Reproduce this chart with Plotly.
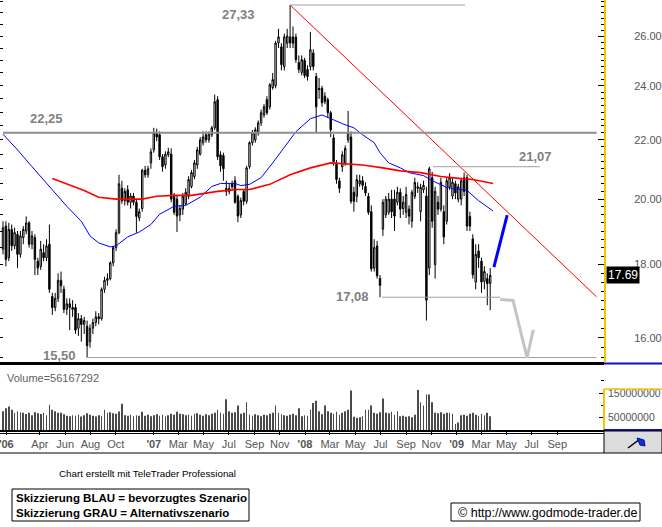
import math
import pandas as pd
import plotly.graph_objects as go

# ---------------- data ----------------
opens = [18.45, 19.15, 18.2, 19.05, 18.55, 18.9, 18.3, 18.8, 19.0, 19.25,
         18.6, 18.8, 18.1, 17.95, 18.35, 18.2, 18.6, 17.1, 16.8, 17.05,
         17.55, 17.3, 16.75, 16.9, 16.8, 16.8, 16.25, 16.5, 16.35, 16.3,
         15.9, 16.25, 16.4, 16.55, 16.5, 17.3, 17.55, 17.6, 18.05, 18.5,
         18.95, 20.35, 19.95, 20.3, 19.9, 20.1, 19.9, 19.4, 19.7, 20.95,
         20.8, 21.2, 21.65, 22.25, 22.18, 21.41, 21.13, 21.48, 21.5, 20.09,
         20.0, 19.5, 19.68, 19.85, 20.09, 20.41, 20.74, 21.13, 21.5, 21.9,
         22.18, 22.0, 22.18, 22.43, 23.47, 21.48, 21.45, 20.35, 20.25, 20.5,
         20.6, 20.09, 19.5, 20.25, 19.93, 21.07, 21.9, 22.0, 22.25, 22.61,
         22.9, 23.47, 23.2, 23.93, 24.0, 25.71, 25.55, 24.75, 25.7, 25.96,
         25.96, 25.96, 24.91, 24.52, 25.0, 24.64, 24.75, 25.3, 24.36, 23.9,
         23.9, 23.6, 23.47, 22.98, 22.07, 21.2, 20.6, 21.07, 21.2, 22.0,
         22.1, 20.22, 20.09, 20.5, 20.6, 20.41, 20.09, 19.6, 17.9, 18.55,
         17.6, 19.06, 19.5, 19.58, 20.0, 20.0, 19.9, 20.22, 19.7, 19.58,
         19.68, 19.3, 20.09, 20.35, 19.6, 20.3, 20.1, 17.9, 20.7, 18.0,
         19.9, 19.68, 19.6, 19.3, 20.4, 20.1, 20.5, 20.0, 20.0, 20.7,
         20.7, 19.45, 18.76, 17.5, 18.4, 18.1, 17.52, 17.6, 17.46]
highs = [19.3, 19.3, 19.25, 19.2, 19.1, 19.0, 19.0, 19.15, 19.45, 19.3,
         19.0, 18.9, 18.2, 18.7, 18.6, 18.75, 19.2, 17.2, 17.2, 17.75,
         17.8, 17.4, 17.05, 17.05, 17.0, 16.9, 16.65, 16.6, 16.55, 16.45,
         16.35, 16.5, 16.7, 16.65, 17.35, 17.65, 17.75, 18.1, 18.55, 19.05,
         20.8, 20.6, 20.35, 20.45, 20.2, 20.2, 20.0, 19.7, 21.0, 21.1,
         21.1, 21.7, 22.43, 22.4, 22.3, 21.5, 21.6, 21.72, 21.7, 20.2,
         20.1, 19.8, 20.2, 20.35, 20.75, 20.95, 21.3, 21.75, 22.1, 22.3,
         22.3, 22.3, 22.5, 23.66, 23.6, 21.6, 21.55, 20.6, 20.5, 20.6,
         20.75, 20.15, 20.05, 20.3, 21.1, 21.95, 22.35, 22.45, 22.7, 23.1,
         23.3, 23.6, 24.1, 24.5, 25.8, 26.3, 25.7, 26.1, 26.3, 27.33,
         26.4, 26.1, 25.2, 25.2, 25.1, 24.8, 26.17, 25.45, 24.5, 24.3,
         24.0, 23.75, 23.55, 23.05, 22.2, 21.3, 20.7, 21.6, 21.8, 23.05,
         22.3, 20.4, 20.8, 20.8, 20.75, 20.55, 20.2, 19.8, 18.75, 18.7,
         17.7, 20.0, 20.1, 20.2, 20.3, 20.3, 20.4, 20.35, 20.1, 20.4,
         19.8, 20.3, 20.7, 20.55, 20.5, 20.6, 20.4, 21.07, 20.9, 20.4,
         20.1, 20.7, 19.8, 20.7, 20.85, 20.7, 20.6, 20.5, 20.7, 20.87,
         20.8, 19.6, 18.9, 18.6, 18.6, 18.2, 17.95, 17.75, 17.9]
lows = [18.3, 17.95, 18.1, 18.4, 18.45, 17.9, 18.2, 18.6, 18.9, 18.5,
        18.45, 17.7, 17.7, 17.85, 18.1, 18.1, 17.2, 16.6, 16.7, 16.95,
        17.2, 16.65, 16.6, 16.2, 16.55, 16.1, 16.05, 15.9, 16.1, 15.5,
        15.75, 16.1, 16.3, 16.35, 16.45, 17.2, 17.4, 17.55, 17.95, 18.4,
        18.9, 19.85, 19.8, 19.8, 19.7, 19.8, 18.95, 19.3, 19.6, 20.7,
        20.7, 21.0, 21.55, 21.95, 21.3, 20.9, 21.0, 21.4, 19.9, 19.5,
        18.97, 19.3, 19.5, 19.8, 20.0, 20.35, 20.65, 21.0, 21.45, 21.8,
        21.9, 21.9, 22.1, 22.35, 21.3, 20.9, 20.6, 20.1, 20.15, 20.3,
        19.85, 19.27, 19.4, 19.8, 19.85, 21.0, 21.8, 21.9, 22.15, 22.5,
        22.8, 22.9, 23.1, 23.85, 23.9, 25.5, 24.6, 24.6, 25.5, 25.5,
        25.5, 24.9, 24.5, 24.4, 24.3, 24.2, 24.6, 24.6, 22.25, 23.5,
        23.2, 23.3, 22.8, 22.1, 21.1, 20.5, 20.2, 20.9, 21.1, 21.9,
        19.85, 19.6, 19.9, 20.4, 20.3, 20.1, 19.5, 17.8, 17.8, 17.6,
        17.08, 18.85, 19.4, 19.5, 19.4, 19.0, 19.8, 19.4, 19.5, 19.4,
        19.2, 19.1, 20.0, 20.2, 19.3, 20.2, 16.45, 17.7, 19.1, 17.6,
        19.5, 19.6, 18.6, 19.2, 20.3, 20.0, 20.0, 19.9, 19.8, 20.1,
        19.0, 19.0, 17.6, 17.3, 17.9, 17.2, 17.3, 16.86, 16.73]
closes = [19.1, 18.15, 19.05, 18.55, 18.95, 18.3, 18.85, 19.05, 19.25, 18.6,
          18.85, 18.15, 17.9, 18.45, 18.2, 18.55, 17.3, 16.8, 17.05, 17.55,
          17.4, 16.75, 16.9, 16.8, 16.75, 16.2, 16.5, 16.35, 16.45, 15.8,
          16.25, 16.4, 16.55, 16.5, 17.3, 17.55, 17.6, 18.05, 18.5, 18.95,
          20.5, 19.95, 20.25, 19.9, 20.1, 19.9, 19.45, 19.6, 20.95, 20.8,
          21.0, 21.58, 22.25, 22.1, 21.41, 21.07, 21.5, 21.58, 20.0, 19.58,
          19.46, 19.7, 20.09, 20.22, 20.64, 20.87, 21.2, 21.65, 22.0, 22.1,
          22.0, 22.2, 22.43, 23.39, 21.41, 21.1, 21.0, 20.25, 20.35, 20.4,
          19.9, 19.46, 19.95, 19.93, 21.03, 21.9, 22.25, 22.36, 22.61, 22.98,
          23.2, 22.98, 24.04, 24.24, 25.71, 25.96, 24.83, 25.96, 26.0, 25.71,
          25.7, 25.03, 24.64, 25.03, 24.4, 24.36, 25.43, 24.75, 23.2, 23.85,
          23.35, 23.4, 22.98, 22.36, 21.24, 20.64, 20.35, 21.48, 21.7, 22.25,
          19.93, 19.93, 20.64, 20.6, 20.45, 20.2, 19.58, 17.88, 18.5, 17.68,
          17.41, 19.9, 20.0, 20.0, 19.6, 19.46, 20.22, 19.68, 19.9, 20.15,
          19.46, 20.22, 20.54, 20.4, 20.38, 20.45, 17.0, 21.0, 19.3, 20.25,
          19.68, 20.55, 18.82, 20.6, 20.7, 20.55, 20.2, 20.4, 20.6, 20.25,
          19.15, 19.15, 17.71, 18.3, 18.2, 17.5, 17.8, 17.46, 17.69]
volume_mio = [76, 88, 95, 82, 70, 76, 72,
              70, 65, 70, 60, 72, 68, 65, 70, 60,
              103,
              82, 76, 70, 70, 64, 58,
              56, 60, 58, 62, 55, 60, 68, 62, 58, 55, 60, 57,
              82,
              70, 72, 68, 66, 75,
              107,
              60, 58, 62, 56, 60, 58,
              74,
              58, 62, 56, 60, 64, 58, 62, 55, 60, 66, 62,
              74,
              66, 64, 60, 62, 58, 66,
              68,
              62, 58, 64, 60, 66, 70,
              82, 70, 66, 125, 76, 70, 72, 100, 66, 70, 113,
              62, 58, 64, 60, 56, 62, 60, 66, 70,
              100,
              70, 64, 60, 58, 62, 66, 60,
              88, 56, 60, 58, 82, 110, 119, 76, 64, 100,
              76, 70, 66, 74, 62, 70, 76, 82,
              160, 54, 50, 52, 56, 82, 82, 100, 70, 66, 72, 128,
              70, 68, 74, 62, 76,
              56, 58, 54, 56, 52, 62,
              162, 113, 100, 144, 144, 113,
              70, 68, 72, 66, 70, 70, 66, 24, 30,
              60, 62, 58, 66, 70, 62, 58, 66, 60, 70, 56.17]
last_volume = 56167292

# moving averages (week number since first candle, value)
blue_ma_weeks = [0, 5, 10, 16, 22, 27, 30, 33, 37, 39, 43, 47, 51, 54, 59, 63, 68, 72,
                 75, 80, 82, 85, 89, 93, 97, 101, 106, 110, 114, 117, 121, 124, 128,
                 130, 133, 137, 140, 145, 148, 153, 158, 160, 164, 169]
blue_ma_vals = [22.2, 21.65, 21.07, 20.41, 19.77, 19.3, 18.85, 18.64, 18.52, 18.55,
                18.82, 18.97, 19.2, 19.52, 19.77, 19.8, 20.06, 20.41, 20.51, 20.51,
                20.44, 20.48, 20.7, 21.2, 21.75, 22.29, 22.76, 22.9, 22.72, 22.58,
                22.43, 22.18, 21.9, 21.55, 21.2, 21.03, 20.87, 20.77, 20.6, 20.38,
                20.31, 20.28, 19.95, 19.62]
red_ma_weeks = [17, 22, 28, 33, 39, 48, 53, 59, 65, 74, 81, 85, 92, 99, 106, 113,
                117, 124, 131, 137, 144, 151, 158, 162, 169]
red_ma_vals = [20.67, 20.48, 20.28, 20.06, 20.0, 20.0, 20.09, 20.12, 20.12, 20.25,
               20.31, 20.31, 20.48, 20.8, 21.03, 21.2, 21.17, 21.13, 21.03, 20.93,
               20.87, 20.74, 20.67, 20.64, 20.51]

# trend line and marked levels
trend_dates = ['2007-11-26', '2009-12-05']
trend_vals = [27.33, 17.09]
level_vals = [27.33, 22.25, 21.07, 17.08, 15.50]
level_labels = ['27,33', '22,25', '21,07', '17,08', '15,50']
level_start = ['2007-11-26', '2006-01-02', '2008-11-05', '2008-07-05', '2006-07-26']
level_end = ['2009-01-21', '2009-12-05', '2009-07-21', '2009-04-16', '2009-12-05']

# scenario sketches
blue_sc_dates = ['2009-04-01', '2009-05-03']
blue_sc_vals = [17.93, 19.49]
gray_sc_dates = ['2009-04-16', '2009-05-17', '2009-06-20', '2009-07-05']
gray_sc_vals = [17.02, 16.99, 15.50, 16.21]

price_ticks = [16, 18, 20, 22, 24, 26]
vol_ticks = [50e6, 150e6]
x_tick_dates = ['2006-01-10', '2006-04-01', '2006-06-01', '2006-08-01', '2006-10-01',
                '2007-01-01', '2007-03-01', '2007-05-01', '2007-07-01', '2007-09-01', '2007-11-01',
                '2008-01-01', '2008-03-01', '2008-05-01', '2008-07-01', '2008-09-01', '2008-11-01',
                '2009-01-01', '2009-03-01', '2009-05-01', '2009-07-01', '2009-09-01']
x_tick_text = ["<b>'06</b>", 'Apr', 'Jun', 'Aug', 'Oct',
               "<b>'07</b>", 'Mar', 'May', 'Jul', 'Sep', 'Nov',
               "<b>'08</b>", 'Mar', 'May', 'Jul', 'Sep', 'Nov',
               "<b>'09</b>", 'Mar', 'May', 'Jul', 'Sep']

# ---------------- layout helpers ----------------
FIG_W, FIG_H = 662, 527
PLOT_W, PLOT_H = 604, 430
PX_PER_WEEK = 2.9


def px(x):
    return x / PLOT_W


def py(y):
    return (PLOT_H - y) / PLOT_H


n = min(len(opens), len(highs), len(lows), len(closes))
start = pd.Timestamp('2006-01-02')
dates = pd.date_range(start, periods=n, freq='7D')
vol_dates = pd.date_range(start, periods=len(volume_mio), freq='7D')


def wk(w):
    return start + pd.Timedelta(days=7 * w)


x0 = start - pd.Timedelta(days=7 * 3 / PX_PER_WEEK)
x1 = x0 + pd.Timedelta(days=7 * PLOT_W / PX_PER_WEEK)

FONT = 'Liberation Sans, Arial, sans-serif'

fig = go.Figure()

fig.add_trace(go.Bar(x=vol_dates, y=[v * 1e6 for v in volume_mio], yaxis='y2',
                     marker=dict(color='#4a4a4a', line=dict(width=0)),
                     width=1.9 * 86400000, hoverinfo='skip'))

fig.add_trace(go.Candlestick(
    x=dates, open=opens[:n], high=highs[:n], low=lows[:n], close=closes[:n],
    increasing=dict(line=dict(color='black', width=1), fillcolor='white'),
    decreasing=dict(line=dict(color='black', width=1), fillcolor='black'),
    whiskerwidth=0, yaxis='y', hoverinfo='skip'))

fig.add_trace(go.Scatter(x=[wk(w) for w in blue_ma_weeks], y=blue_ma_vals, mode='lines',
                         line=dict(color='#0000ff', width=1), yaxis='y', hoverinfo='skip'))
fig.add_trace(go.Scatter(x=[wk(w) for w in red_ma_weeks], y=red_ma_vals, mode='lines',
                         line=dict(color='#ff0000', width=1.6), yaxis='y', hoverinfo='skip'))
fig.add_trace(go.Scatter(x=trend_dates, y=trend_vals, mode='lines',
                         line=dict(color='#ff0000', width=1), yaxis='y', hoverinfo='skip'))

for v, s, e in zip(level_vals, level_start, level_end):
    thick = (v == 22.25)
    fig.add_trace(go.Scatter(x=[s, e], y=[v, v], mode='lines',
                             line=dict(color='#8e8e8e' if thick else '#a0a0a0',
                                       width=2 if thick else 1),
                             yaxis='y', hoverinfo='skip'))

fig.add_trace(go.Scatter(x=gray_sc_dates, y=gray_sc_vals, mode='lines',
                         line=dict(color='#c4c4c4', width=3), yaxis='y', hoverinfo='skip'))
fig.add_trace(go.Scatter(x=blue_sc_dates, y=blue_sc_vals, mode='lines',
                         line=dict(color='#0000ff', width=3), yaxis='y', hoverinfo='skip'))

# invisible helper so the left tick axis is drawn
fig.add_trace(go.Scatter(x=[dates[-1]], y=[closes[n - 1]], mode='markers',
                         marker=dict(opacity=0), yaxis='y3', hoverinfo='skip'))

y_lo, y_hi = 15.39, 27.55
log_range = [math.log10(y_lo), math.log10(y_hi)]

minor_vals = [round(15.5 + 0.25 * k, 2) for k in range(0, 49)]
minor_vals = [m for m in minor_vals if m not in price_ticks]
left_vals = [round(15.5 + 0.5 * k, 2) for k in range(0, 25)]

annotations = []
lab_pos = {'27,33': (238, -10), '22,25': (46, 14), '21,07': (535, 10),
           '17,08': (352, 1), '15,50': (59, 2)}
for v, t in zip(level_vals, level_labels):
    xp, ys = lab_pos[t]
    annotations.append(dict(x=px(xp), xref='paper', y=math.log10(v), yref='y',
                            yshift=ys, text=t, showarrow=False, xanchor='center',
                            yanchor='middle',
                            font=dict(family=FONT, size=13, color='#808080', weight='bold')))
annotations.append(dict(x=px(606), xref='paper', y=math.log10(closes[n - 1]), yref='y',
                        text=f'{closes[n - 1]:.2f}', showarrow=False, xanchor='left',
                        yanchor='middle', bgcolor='black', borderpad=1,
                        font=dict(family=FONT, size=12, color='white')))
annotations.append(dict(x=px(5), xref='paper', y=py(378), yref='paper',
                        text=f'Volume={last_volume}', showarrow=False, xanchor='left',
                        yanchor='middle', font=dict(family=FONT, size=11, color='#606060')))
annotations.append(dict(x=px(57), xref='paper', y=py(473), yref='paper',
                        text='Chart erstellt mit TeleTrader Professional', showarrow=False,
                        xanchor='left', yanchor='middle',
                        font=dict(family=FONT, size=9.8, color='black')))
annotations.append(dict(x=px(14), xref='paper', y=py(505), yref='paper',
                        text='Skizzierung BLAU = bevorzugtes Szenario<br>Skizzierung GRAU = Alternativszenario',
                        showarrow=False, xanchor='left', yanchor='middle', align='left',
                        font=dict(family=FONT, size=11.5, color='black', weight='bold')))
annotations.append(dict(x=px(456), xref='paper', y=py(512.5), yref='paper',
                        text='© http://www.godmode-trader.de', showarrow=False,
                        xanchor='left', yanchor='middle',
                        font=dict(family=FONT, size=12.5, color='black')))

shapes = []
shapes.append(dict(type='line', xref='paper', yref='paper', x0=px(0), x1=px(604),
                   y0=py(363.5), y1=py(363.5), line=dict(color='black', width=3)))
shapes.append(dict(type='line', xref='paper', yref='paper', x0=px(604), x1=px(662),
                   y0=py(363.5), y1=py(363.5), line=dict(color='#1010c0', width=2)))
shapes.append(dict(type='line', xref='paper', yref='paper', x0=px(604), x1=px(604),
                   y0=py(389), y1=py(430), line=dict(color='#f5c400', width=2)))
shapes.append(dict(type='line', xref='paper', yref='paper', x0=px(604), x1=px(662),
                   y0=py(389), y1=py(389), line=dict(color='#f5c400', width=1.5)))
shapes.append(dict(type='line', xref='paper', yref='paper', x0=px(604), x1=px(662),
                   y0=py(430), y1=py(430), line=dict(color='#1010c0', width=2)))
shapes.append(dict(type='line', xref='paper', yref='paper', x0=px(0), x1=px(604),
                   y0=py(433.5), y1=py(433.5), line=dict(color='black', width=1)))
shapes.append(dict(type='line', xref='paper', yref='paper', x0=px(0), x1=px(604),
                   y0=py(453), y1=py(453), line=dict(color='black', width=1)))
shapes.append(dict(type='rect', xref='paper', yref='paper', x0=px(604), x1=px(662),
                   y0=py(453), y1=py(431), fillcolor='#dcdcdc',
                   line=dict(color='black', width=1)))
shapes.append(dict(type='line', xref='paper', yref='paper', x0=px(628), x1=px(640),
                   y0=py(448), y1=py(439), line=dict(color='black', width=1.5)))
shapes.append(dict(type='path', xref='paper', yref='paper',
                   path=f'M {px(637)},{py(438)} L {px(644)},{py(440)} L {px(645)},{py(446)} '
                        f'L {px(640)},{py(445)} Z',
                   fillcolor='#1030e0', line=dict(color='#0010a0', width=1)))
shapes.append(dict(type='rect', xref='paper', yref='paper', x0=px(12), x1=px(249),
                   y0=py(521), y1=py(489), line=dict(color='black', width=1)))
shapes.append(dict(type='rect', xref='paper', yref='paper', x0=px(451), x1=px(640),
                   y0=py(521), y1=py(503), line=dict(color='black', width=1)))

fig.update_layout(
    width=FIG_W, height=FIG_H,
    margin=dict(l=0, r=FIG_W - PLOT_W, t=0, b=FIG_H - PLOT_H, pad=0),
    paper_bgcolor='white', plot_bgcolor='white',
    showlegend=False, hovermode=False,
    font=dict(family=FONT, size=11, color='#555555'),
    xaxis=dict(type='date', range=[x0, x1], domain=[0, 1], anchor='y2',
               tickvals=x_tick_dates, ticktext=x_tick_text, ticks='outside', ticklen=3,
               tickcolor='black', showline=True, linecolor='black', linewidth=2,
               showgrid=False, zeroline=False, rangeslider=dict(visible=False),
               ticklabeloverflow='allow',
               tickfont=dict(family=FONT, size=11, color='#555555')),
    yaxis=dict(domain=[py(362), 1], type='log', range=log_range, side='right',
               anchor='x', ticks='inside', ticklen=6, tickcolor='black',
               tickvals=price_ticks, ticktext=[f'{t:.2f}' for t in price_ticks],
               tickfont=dict(family=FONT, size=11, color='#555555'),
               ticklabelstandoff=26,
               showline=True, linecolor='#f5c400', linewidth=2, showgrid=False,
               zeroline=False,
               minor=dict(tickvals=minor_vals, ticks='inside', ticklen=3,
                          tickcolor='black', showgrid=False)),
    yaxis3=dict(overlaying='y', type='log', range=log_range, side='left', anchor='x',
                ticks='inside', ticklen=3, tickcolor='black', tickvals=left_vals,
                showticklabels=False, showline=False, showgrid=False, zeroline=False),
    yaxis2=dict(domain=[0, py(366)], range=[0, 260e6], side='right', anchor='x',
                ticks='inside', ticklen=5, tickcolor='black', tickvals=vol_ticks,
                ticktext=[f'{int(t)}' for t in vol_ticks],
                tickfont=dict(family=FONT, size=10.5, color='#555555'),
                ticklabelstandoff=3, showline=False, showgrid=False, zeroline=False,
                minor=dict(tickvals=[100e6, 200e6], ticks='inside', ticklen=3,
                           tickcolor='black')),
    annotations=annotations,
    shapes=shapes,
)

fig.write_html('out.html', config={'displayModeBar': False},
               post_script="document.body.style.margin='0px';")
